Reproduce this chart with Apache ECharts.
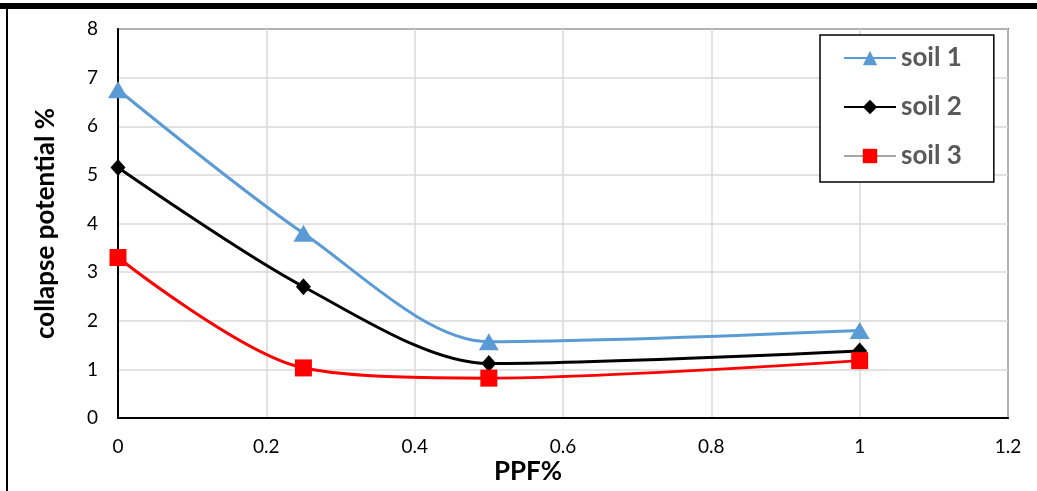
<!DOCTYPE html>
<html>
<head>
<meta charset="utf-8">
<script src="https://cdn.jsdelivr.net/npm/echarts@6/dist/echarts.min.js"></script>
<style>
  html, body { margin: 0; padding: 0; background: #fff; }
  #main { width: 1037px; height: 491px; }
</style>
</head>
<body>
<div id="main"></div>
<script>
// PPF% values along x, collapse potential % per soil
var ppf = [0, 0.25, 0.5, 1];
var soil1 = [6.75, 3.8, 1.57, 1.8];
var soil2 = [5.15, 2.7, 1.12, 1.38];
var soil3 = [3.3, 1.03, 0.82, 1.18];

function pairs(ys) {
    return ppf.map(function (x, i) { return [x, ys[i]]; });
}

var font = 'Lato, "Open Sans", "Liberation Sans", sans-serif';
var chart = echarts.init(document.getElementById('main'));

var option = {
    animation: false,
    textStyle: { fontFamily: font },
    grid: {
        left: 118, right: 29, top: 29, bottom: 73,
        show: true, borderColor: '#000', borderWidth: 1.5
    },
    legend: {
        orient: 'vertical',
        left: 820, top: 35,
        padding: [10, 32, 13, 23],
        backgroundColor: '#fff',
        borderColor: '#000',
        borderWidth: 1.5,
        itemWidth: 52, itemHeight: 18,
        itemGap: 23,
        textStyle: { fontSize: 26, fontWeight: 'bold', color: '#595959', fontFamily: font },
        data: [
            { name: 'soil 1' },
            { name: 'soil 2' },
            { name: 'soil 3', lineStyle: { color: '#a5a5a5' } }
        ]
    },
    xAxis: {
        type: 'value', min: 0, max: 1.2, interval: 0.2,
        axisLine: { lineStyle: { color: '#000', width: 2 } },
        axisTick: { show: false },
        axisLabel: { fontSize: 19, color: '#000', margin: 19 },
        splitLine: { lineStyle: { color: '#d9d9d9', width: 1.5 } }
    },
    yAxis: {
        type: 'value', min: 0, max: 8, interval: 1,
        name: 'collapse potential %',
        nameLocation: 'middle',
        nameGap: 59,
        nameTextStyle: { fontSize: 26, fontWeight: 'bold', color: '#000' },
        axisLine: { show: true, lineStyle: { color: '#000', width: 2 } },
        axisTick: { show: false },
        axisLabel: { fontSize: 19, color: '#000', margin: 20 },
        splitLine: { lineStyle: { color: '#d9d9d9', width: 1.5 } }
    },
    graphic: [
        { type: 'rect', shape: { x: 0, y: 3, width: 1037, height: 6 }, style: { fill: '#000' } },
        { type: 'rect', shape: { x: 6, y: 9, width: 2, height: 482 }, style: { fill: '#000' } },
        {
            type: 'text', x: 528, y: 472,
            style: { text: 'PPF%', fontSize: 26, fontWeight: 'bold', fill: '#000',
                     fontFamily: font, align: 'center', verticalAlign: 'middle' }
        }
    ],
    series: [
        {
            name: 'soil 1', type: 'line', smooth: 0.3,
            data: pairs(soil1),
            symbol: 'triangle', symbolSize: [20, 17],
            lineStyle: { color: '#5b9bd5', width: 3 },
            itemStyle: { color: '#5b9bd5' }
        },
        {
            name: 'soil 2', type: 'line', smooth: 0.3,
            data: pairs(soil2),
            symbol: 'diamond', symbolSize: [15, 17],
            lineStyle: { color: '#000', width: 3 },
            itemStyle: { color: '#000' }
        },
        {
            name: 'soil 3', type: 'line', smooth: 0.3,
            data: pairs(soil3),
            symbol: 'rect', symbolSize: 17,
            lineStyle: { color: '#ff0000', width: 3 },
            itemStyle: { color: '#ff0000' }
        }
    ]
};
chart.setOption(option);
</script>
</body>
</html>
